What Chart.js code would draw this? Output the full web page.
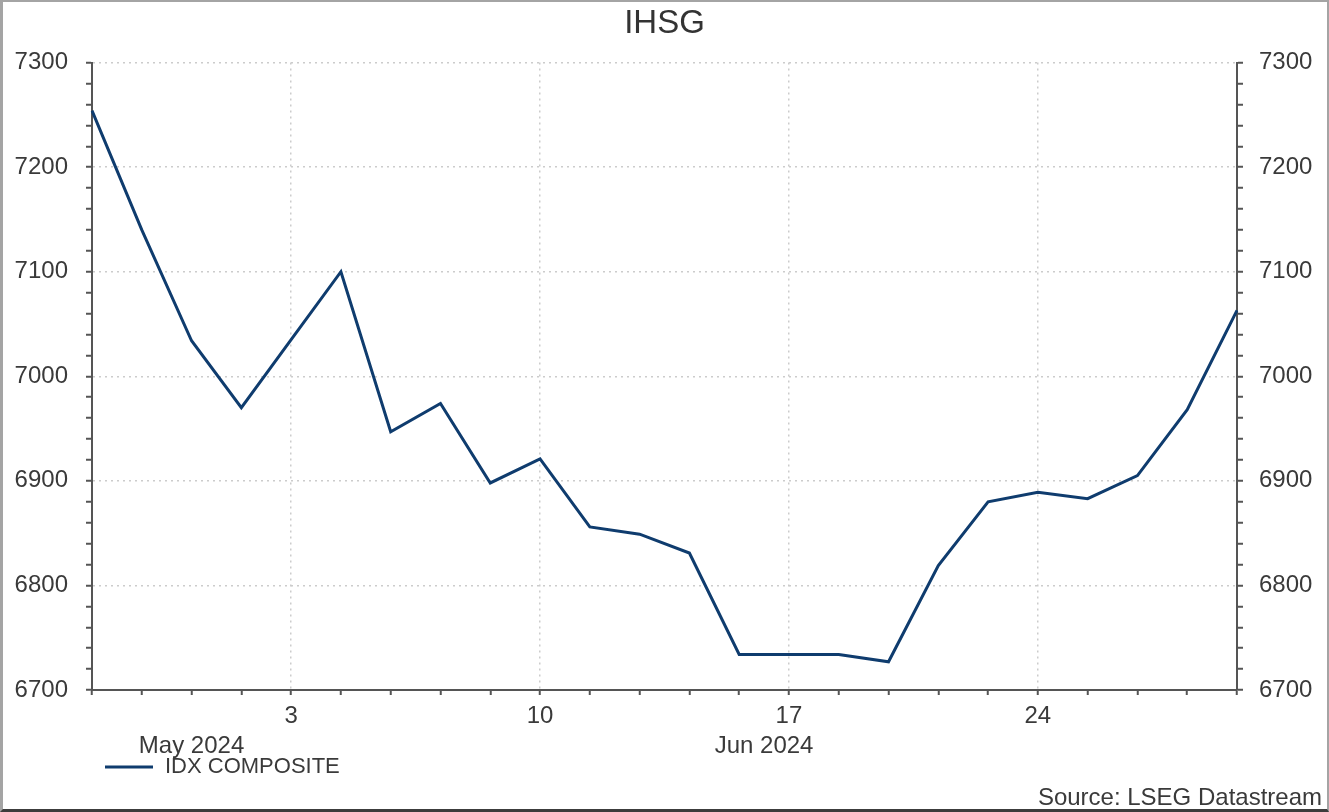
<!DOCTYPE html>
<html>
<head>
<meta charset="utf-8">
<title>IHSG</title>
<script src="https://cdn.jsdelivr.net/npm/chart.js@4.4.1/dist/chart.umd.min.js"></script>
<style>
  html, body { margin: 0; padding: 0; background: #fff; }
  #wrap { position: relative; width: 1329px; height: 812px; }
  #frame {
    position: absolute; left: 0; top: 0; width: 1329px; height: 812px;
    box-sizing: border-box; pointer-events: none;
    border: 2px solid #a4a4a4; border-left-width: 3px;
    border-bottom: 3px solid #3c3c3c;
  }
</style>
</head>
<body>
<div id="wrap">
  <canvas id="chart" width="1329" height="812"></canvas>
  <div id="frame"></div>
</div>
<script>
// trading days shown on the axis (business days only)
var dates = [
  '2024-05-28', '2024-05-29', '2024-05-30', '2024-05-31',
  '2024-06-03', '2024-06-04', '2024-06-05', '2024-06-06', '2024-06-07',
  '2024-06-10', '2024-06-11', '2024-06-12', '2024-06-13', '2024-06-14',
  '2024-06-17', '2024-06-18', '2024-06-19', '2024-06-20', '2024-06-21',
  '2024-06-24', '2024-06-25', '2024-06-26', '2024-06-27', '2024-06-28'
];

// IDX COMPOSITE closes
var idxComposite = [
  7254, 7140, 7034, 6970,
  7035, 7100, 6947, 6974, 6898,
  6921, 6856, 6849, 6831, 6734,
  6734, 6734, 6727, 6819, 6880,
  6889, 6883, 6905, 6968, 7063
];

var seriesName = 'IDX COMPOSITE';
var yMin = 6700, yMax = 7300, yStep = 20, yMajor = 100;
var monthNames = ['Jan','Feb','Mar','Apr','May','Jun','Jul','Aug','Sep','Oct','Nov','Dec'];
var sourceText = 'Source: LSEG Datastream';

var FONT = "'Liberation Sans', Arial, sans-serif";
var TEXT = '#3a3a3a';
var LINE = '#0f3c6e';
var GRID = '#cccccc';
var AXIS = '#555555';

function parseDate(s) {
  var p = s.split('-');
  return new Date(Date.UTC(+p[0], +p[1] - 1, +p[2]));
}
function isMonday(i) {
  return parseDate(dates[i]).getUTCDay() === 1;
}

// month bands: from the first day of a month up to the start of the next one
var monthTicks = [];
(function() {
  var starts = [];
  for (var i = 0; i < dates.length; i++) {
    var m = parseDate(dates[i]).getUTCMonth();
    if (i === 0 || m !== parseDate(dates[i - 1]).getUTCMonth()) starts.push(i);
  }
  for (var k = 0; k < starts.length; k++) {
    var a = starts[k];
    var b = k + 1 < starts.length ? starts[k + 1] : dates.length - 1;
    var d = parseDate(dates[a]);
    monthTicks.push({ value: (a + b) / 2, label: monthNames[d.getUTCMonth()] + ' ' + d.getUTCFullYear() });
  }
})();

var extras = {
  id: 'extras',
  afterDraw: function(chart) {
    var ctx = chart.ctx;
    var ds = chart.data.datasets[0];
    var y = chart.scales.xm.bottom + 9;
    ctx.save();
    ctx.strokeStyle = ds.borderColor;
    ctx.lineWidth = 3;
    ctx.beginPath();
    ctx.moveTo(105, y);
    ctx.lineTo(153, y);
    ctx.stroke();
    ctx.fillStyle = TEXT;
    ctx.font = '22px ' + FONT;
    ctx.textBaseline = 'middle';
    ctx.textAlign = 'left';
    ctx.fillText(ds.label, 165, y);
    ctx.font = '24px ' + FONT;
    ctx.textAlign = 'right';
    ctx.fillText(sourceText, 1322, chart.height - 14);
    ctx.restore();
  }
};

function yAxis(pos, grid) {
  return {
    type: 'linear',
    position: pos,
    min: yMin,
    max: yMax,
    afterFit: function(s) { s.width = 92; },
    ticks: {
      stepSize: yStep,
      autoSkip: false,
      maxTicksLimit: 100,
      padding: pos === 'left' ? 18 : 16,
      color: TEXT,
      font: { family: FONT, size: 24 },
      callback: function(v) { return v % yMajor === 0 ? String(v) : ''; }
    },
    grid: {
      drawOnChartArea: grid,
      tickLength: 6,
      tickWidth: 2,
      tickColor: AXIS,
      lineWidth: 1.5,
      color: function(c) {
        return c.tick && c.tick.value % yMajor === 0 && c.tick.value > yMin ? GRID : 'rgba(0,0,0,0)';
      }
    },
    border: { display: true, color: AXIS, width: 2, dash: [2, 4] }
  };
}

var ctx = document.getElementById('chart');

var chart = new Chart(ctx, {
  type: 'line',
  data: {
    labels: dates,
    datasets: [{
      label: seriesName,
      data: idxComposite,
      borderColor: LINE,
      backgroundColor: LINE,
      borderWidth: 3,
      pointRadius: 0,
      tension: 0,
      fill: false,
      yAxisID: 'y'
    }]
  },
  options: {
    responsive: false,
    animation: false,
    layout: { padding: { top: 0, left: 0, right: 0, bottom: 54 } },
    plugins: {
      legend: { display: false },
      tooltip: { enabled: false },
      title: {
        display: true,
        text: 'IHSG',
        color: '#333333',
        font: { family: FONT, size: 33, weight: 'normal' },
        padding: { top: 4, bottom: 19 }
      }
    },
    scales: {
      x: {
        type: 'category',
        position: 'bottom',
        offset: false,
        afterFit: function(s) { s.height = 40; },
        ticks: {
          autoSkip: false,
          maxRotation: 0,
          padding: 7,
          color: TEXT,
          font: { family: FONT, size: 24 },
          callback: function(v, i) {
            return isMonday(i) ? String(parseDate(dates[i]).getUTCDate()) : '';
          }
        },
        grid: {
          offset: false,
          tickLength: 5,
          tickWidth: 2,
          tickColor: AXIS,
          lineWidth: 1.5,
          color: function(c) {
            return c.index !== undefined && isMonday(c.index) ? GRID : 'rgba(0,0,0,0)';
          }
        },
        border: { display: true, color: AXIS, width: 2, dash: [2, 4] }
      },
      xm: {
        type: 'linear',
        position: 'bottom',
        weight: 1,
        min: 0,
        max: dates.length - 1,
        afterFit: function(s) { s.height = 28; },
        afterBuildTicks: function(s) {
          s.ticks = monthTicks.map(function(t) { return { value: t.value }; });
        },
        ticks: {
          autoSkip: false,
          maxRotation: 0,
          padding: 2,
          color: TEXT,
          font: { family: FONT, size: 24 },
          callback: function(v) {
            for (var k = 0; k < monthTicks.length; k++) {
              if (monthTicks[k].value === v) return monthTicks[k].label;
            }
            return '';
          }
        },
        grid: { display: false, drawTicks: false },
        border: { display: false }
      },
      y: yAxis('left', true),
      y2: yAxis('right', false)
    }
  },
  plugins: [extras]
});
</script>
</body>
</html>
